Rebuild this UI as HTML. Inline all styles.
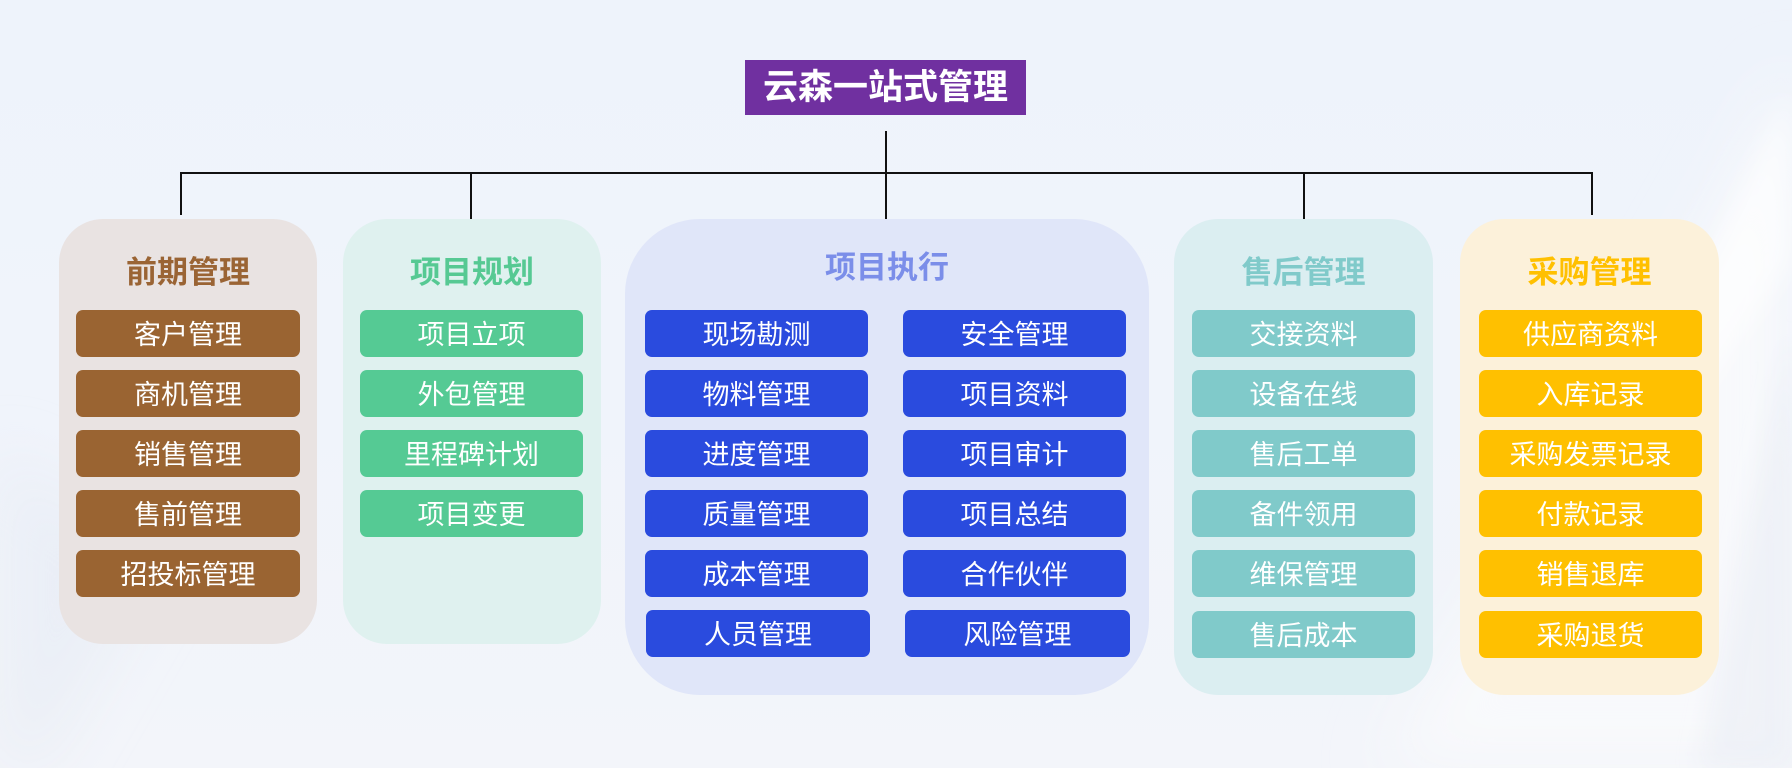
<!DOCTYPE html>
<html lang="zh">
<head>
<meta charset="utf-8">
<style>
  html,body{margin:0;padding:0;}
  body{width:1792px;height:768px;overflow:hidden;position:relative;
    font-family:"Liberation Sans","Noto Sans CJK SC","WenQuanYi Zen Hei",sans-serif;
    background:linear-gradient(180deg,#eef3fb 0%,#f0f4fb 50%,#f3f5fa 100%);}
  .bg{position:absolute;left:0;top:0;width:1792px;height:768px;}
  .title{position:absolute;left:745px;top:60px;width:281px;height:55px;background:#7030a0;
    color:#fff;font-weight:bold;font-size:35px;line-height:55px;text-align:center;}
  .ln{position:absolute;background:#111;}
  .panel{position:absolute;top:219px;}
  .head{position:absolute;font-weight:bold;font-size:31px;line-height:40px;text-align:center;white-space:nowrap;}
  .item{position:absolute;height:47px;line-height:51px;color:#fff;font-size:27px;text-align:center;
    border-radius:7px;white-space:nowrap;box-sizing:border-box;}
  .br{background:#9a6432;}
  .gr{background:#55ca94;}
  .bl{background:#2a4bde;}
  .tl{background:#80caca;}
  .yl{background:#ffc000;}
</style>
</head>
<body>
<svg class="bg" width="1792" height="768" viewBox="0 0 1792 768">
  <defs>
    <filter id="bl1" x="-50%" y="-50%" width="200%" height="200%"><feGaussianBlur stdDeviation="30"/></filter>
    <filter id="bl2" x="-50%" y="-50%" width="200%" height="200%"><feGaussianBlur stdDeviation="12"/></filter>
  </defs>
  <g filter="url(#bl1)">
    <polygon points="1792,60 1792,768 1380,768 1560,480 1720,200" fill="#f8f9fc" opacity="0.9"/>
    <polygon points="0,450 160,560 40,768 0,768" fill="#e6ebf3" opacity="0.6"/>
  </g>
  <g filter="url(#bl2)">
    <polygon points="1790,90 1792,260 1620,520 1560,560" fill="#ffffff" opacity="0.6"/>
    <polygon points="1792,330 1792,768 1700,768 1740,560" fill="#e7ecf3" opacity="0.5"/>
  </g>
</svg>

<div class="title">云森一站式管理</div>

<!-- connectors -->
<div class="ln" style="left:181px;top:172px;width:1412px;height:2px;"></div>
<div class="ln" style="left:885px;top:131px;width:2px;height:88px;"></div>
<div class="ln" style="left:180px;top:172px;width:2px;height:43px;"></div>
<div class="ln" style="left:470px;top:172px;width:2px;height:47px;"></div>
<div class="ln" style="left:1303px;top:172px;width:2px;height:47px;"></div>
<div class="ln" style="left:1591px;top:172px;width:2px;height:43px;"></div>

<!-- panel 1 -->
<div class="panel" style="left:59px;width:258px;height:425px;background:#e9e3e2;border-radius:44px;"></div>
<div class="head" style="left:59px;width:258px;top:253px;color:#9a6434;">前期管理</div>
<div class="item br" style="left:76px;width:224px;top:310px;">客户管理</div>
<div class="item br" style="left:76px;width:224px;top:370px;">商机管理</div>
<div class="item br" style="left:76px;width:224px;top:430px;">销售管理</div>
<div class="item br" style="left:76px;width:224px;top:490px;">售前管理</div>
<div class="item br" style="left:76px;width:224px;top:550px;">招投标管理</div>

<!-- panel 2 -->
<div class="panel" style="left:343px;width:258px;height:425px;background:#dff1ef;border-radius:44px;"></div>
<div class="head" style="left:343px;width:258px;top:253px;color:#56c993;">项目规划</div>
<div class="item gr" style="left:360px;width:223px;top:310px;">项目立项</div>
<div class="item gr" style="left:360px;width:223px;top:370px;">外包管理</div>
<div class="item gr" style="left:360px;width:223px;top:430px;">里程碑计划</div>
<div class="item gr" style="left:360px;width:223px;top:490px;">项目变更</div>

<!-- panel 3 -->
<div class="panel" style="left:625px;width:524px;height:476px;background:#e0e6f9;border-radius:75px;"></div>
<div class="head" style="left:625px;width:524px;top:248px;color:#7b8ee9;">项目执行</div>
<div class="item bl" style="left:645px;width:223px;top:310px;">现场勘测</div>
<div class="item bl" style="left:645px;width:223px;top:370px;">物料管理</div>
<div class="item bl" style="left:645px;width:223px;top:430px;">进度管理</div>
<div class="item bl" style="left:645px;width:223px;top:490px;">质量管理</div>
<div class="item bl" style="left:645px;width:223px;top:550px;">成本管理</div>
<div class="item bl" style="left:646px;width:224px;top:610px;">人员管理</div>
<div class="item bl" style="left:903px;width:223px;top:310px;">安全管理</div>
<div class="item bl" style="left:903px;width:223px;top:370px;">项目资料</div>
<div class="item bl" style="left:903px;width:223px;top:430px;">项目审计</div>
<div class="item bl" style="left:903px;width:223px;top:490px;">项目总结</div>
<div class="item bl" style="left:903px;width:223px;top:550px;">合作伙伴</div>
<div class="item bl" style="left:905px;width:225px;top:610px;">风险管理</div>

<!-- panel 4 -->
<div class="panel" style="left:1174px;width:259px;height:476px;background:#dbeef1;border-radius:44px;"></div>
<div class="head" style="left:1174px;width:259px;top:253px;color:#80caca;">售后管理</div>
<div class="item tl" style="left:1192px;width:223px;top:310px;">交接资料</div>
<div class="item tl" style="left:1192px;width:223px;top:370px;">设备在线</div>
<div class="item tl" style="left:1192px;width:223px;top:430px;">售后工单</div>
<div class="item tl" style="left:1192px;width:223px;top:490px;">备件领用</div>
<div class="item tl" style="left:1192px;width:223px;top:550px;">维保管理</div>
<div class="item tl" style="left:1192px;width:223px;top:611px;">售后成本</div>

<!-- panel 5 -->
<div class="panel" style="left:1460px;width:259px;height:476px;background:#fcf0d8;opacity:0.95;border-radius:44px;"></div>
<div class="head" style="left:1460px;width:259px;top:253px;color:#ffc000;">采购管理</div>
<div class="item yl" style="left:1479px;width:223px;top:310px;">供应商资料</div>
<div class="item yl" style="left:1479px;width:223px;top:370px;">入库记录</div>
<div class="item yl" style="left:1479px;width:223px;top:430px;">采购发票记录</div>
<div class="item yl" style="left:1479px;width:223px;top:490px;">付款记录</div>
<div class="item yl" style="left:1479px;width:223px;top:550px;">销售退库</div>
<div class="item yl" style="left:1479px;width:223px;top:611px;">采购退货</div>
</body>
</html>
